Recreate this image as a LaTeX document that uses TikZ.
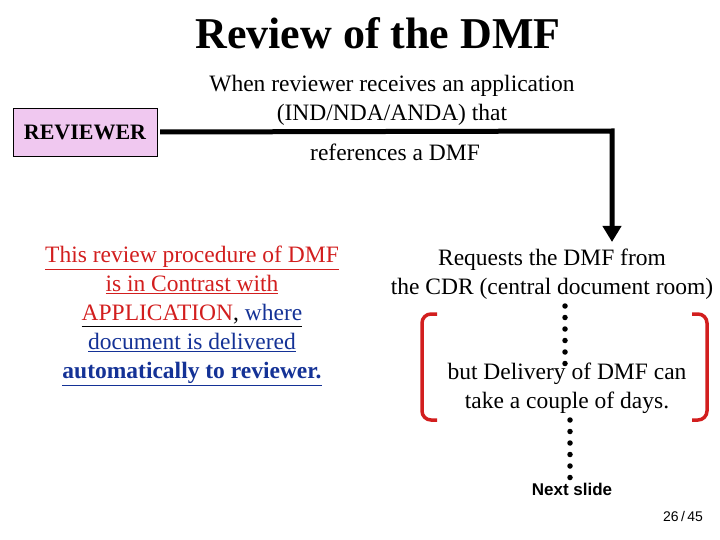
\documentclass[tikz,border=0pt]{standalone}
\usepackage{fontspec}
\setmainfont{Liberation Serif}
\newfontfamily\sansfam{Liberation Sans}
\usetikzlibrary{arrows.meta}
\definecolor{boxpink}{RGB}{240,200,240}
\definecolor{linkred}{RGB}{210,30,30}
\definecolor{linkblue}{RGB}{20,50,150}
\tikzset{
  txt/.style={align=center, font=\fontsize{23.5}{29}\selectfont, inner sep=0pt},
  dots/.style={line width=5.5pt, line cap=round, dash pattern=on 0pt off 11.5pt},
  brack/.style={draw=linkred, line width=3.5pt, rounded corners=9pt}
}
\begin{document}
\begin{tikzpicture}[x=1pt, y=-1pt]
\useasboundingbox (0,0) rectangle (720,540);

% Title
\node[font=\bfseries\fontsize{44}{48}\selectfont] (title) at (378,33) {Review of the DMF};

% Reviewer
\node[draw, fill=boxpink, font=\bfseries\fontsize{22}{24}\selectfont, minimum width=144pt, minimum height=48pt, inner sep=1pt] (rev) at (85,132) {REVIEWER};
\node[txt] (recv) at (392,100) {When reviewer receives an application\\(IND/NDA/ANDA) that};
\node[txt] (refs) at (395,152) {references a DMF};

% Connector
\coordinate (corner) at (612,131);
\coordinate (tip) at (612,242);
\draw[line width=5pt, -{Triangle[length=16pt, width=18pt]}] (rev.east) ++(3,0) -- (corner) -- (tip);

% Left text
\node[txt] (contrast) at (192,316) {\color{linkred}\underline{This review procedure of DMF}\\
  \color{linkred}\underline{is in Contrast with}\\
  \underline{\color{linkred}APPLICATION\color{black}, \color{linkblue}where}\\
  \color{linkblue}\underline{document is delivered}\\
  \color{linkblue}\underline{\textbf{automatically to reviewer.}}};

% Right text
\node[txt] (req) at (552,274) {Requests the DMF from\\the CDR (central document room)};
\node[txt] (deliv) at (567,388) {but Delivery of DMF can\\take a couple of days.};
\node[font=\sansfam\bfseries\fontsize{17}{19}\selectfont] (next) at (572,489) {Next slide};

% Dots
\coordinate (d1) at (565,306);
\coordinate (d2) at (565,368);
\coordinate (d3) at (570,420);
\coordinate (d4) at (570,480);
\draw[dots] (d1) -- (d2);
\draw[dots] (d3) -- (d4);

% Brackets
\draw[brack] (437,314) -- (422,314) -- (422,420) -- (437,420);
\draw[brack] (692,314) -- (707,314) -- (707,420) -- (692,420);

% Page number
\node[font=\sansfam\fontsize{14}{16}\selectfont] (page) at (683,516) {26\,/\,45};
\end{tikzpicture}
\end{document}
